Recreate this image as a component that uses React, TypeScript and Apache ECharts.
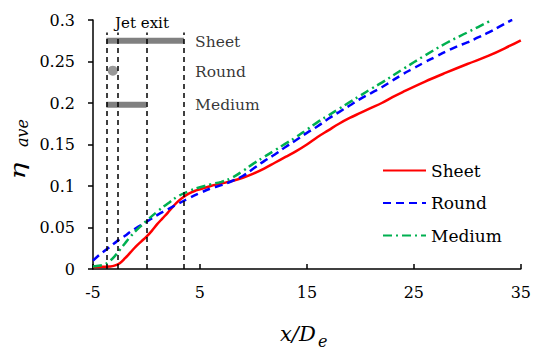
import { useEffect, useRef } from 'react';
import * as echarts from 'echarts';

const FONT = 'DejaVu Serif';

const xTicks = [-5, 5, 15, 25, 35];
const yMin = 0;
const yMax = 0.3;
const yStep = 0.05;

const sheetX = [-5, -4.5, -4, -3.5, -3, -2.5, -2, -1.5, -1, -0.5, 0, 0.5, 1, 1.5, 2, 2.5, 3, 3.5, 4, 4.5, 5, 6, 7, 8, 9, 10, 11, 12, 13, 14, 15, 16, 17, 18, 19, 20, 21, 22, 23, 24, 26, 28, 30, 32, 34, 35];
const sheetY = [0.0025, 0.0025, 0.0027, 0.003, 0.004, 0.007, 0.013, 0.02, 0.027, 0.033, 0.039, 0.046, 0.054, 0.061, 0.068, 0.0755, 0.082, 0.087, 0.091, 0.094, 0.096, 0.1, 0.103, 0.106, 0.11, 0.115, 0.121, 0.128, 0.135, 0.142, 0.15, 0.159, 0.167, 0.175, 0.182, 0.188, 0.194, 0.2, 0.207, 0.2135, 0.2255, 0.2365, 0.247, 0.257, 0.269, 0.2755];

const roundX = [-5, -4.5, -4, -3.5, -3, -2.5, -2, -1.5, -1, -0.5, 0, 1, 2, 3, 4, 5, 6, 7, 8, 9, 10, 11, 12, 13, 14, 15, 16, 17, 18, 19, 20, 21, 22, 23, 24, 25, 26, 27, 28, 29, 30, 31, 32, 33, 34, 34.2];
const roundY = [0.01, 0.016, 0.021, 0.026, 0.031, 0.036, 0.04, 0.045, 0.049, 0.053, 0.057, 0.065, 0.072, 0.079, 0.0855, 0.0915, 0.097, 0.101, 0.106, 0.112, 0.121, 0.13, 0.138, 0.147, 0.1555, 0.164, 0.172, 0.181, 0.189, 0.197, 0.205, 0.212, 0.219, 0.227, 0.235, 0.242, 0.249, 0.2555, 0.262, 0.268, 0.273, 0.279, 0.285, 0.292, 0.299, 0.3];

const mediumX = [-5, -4.5, -4, -3.5, -3, -2.5, -2, -1.5, -1, -0.5, 0, 1, 2, 3, 4, 5, 6, 7, 8, 9, 10, 11, 12, 13, 14, 15, 16, 17, 18, 19, 20, 21, 22, 24, 26, 28, 30, 32, 32.3];
const mediumY = [0.003, 0.004, 0.005, 0.009, 0.015, 0.023, 0.031, 0.039, 0.046, 0.052, 0.058, 0.069, 0.079, 0.088, 0.094, 0.0985, 0.102, 0.105, 0.11, 0.118, 0.127, 0.135, 0.143, 0.151, 0.159, 0.168, 0.177, 0.185, 0.193, 0.201, 0.209, 0.217, 0.2245, 0.241, 0.257, 0.272, 0.285, 0.298, 0.3];

// Jet exit inset
const jetLinesX = [-3.7, -2.7, 0, 3.5];
const jetLineTop = 0.285;
const sheetExitX = [-3.75, 3.5];
const sheetExitY = 0.275;
const roundExitX = -3.15;
const roundExitY = 0.239;
const mediumExitX = [-3.75, 0];
const mediumExitY = 0.198;
const insetLabels = ['Sheet', 'Round', 'Medium'];
const insetLabelX = 4.5;
const insetLabelY = [0.2735, 0.2375, 0.1975];
const jetTitle = 'Jet exit';

const zip = (xs: number[], ys: number[]) => xs.map((x, i) => [x, ys[i]]);

export default function App() {
  const ref = useRef<HTMLDivElement>(null);
  useEffect(() => {
    const chart = echarts.init(ref.current!, null, { renderer: 'svg' });
    const gray = '#808080';
    const option: any = {
      animation: false,
      textStyle: { fontFamily: FONT, color: '#000' },
      grid: { left: 93, right: 12, top: 20, bottom: 82 },
      legend: {
        data: ['Sheet', 'Round', 'Medium'],
        orient: 'vertical',
        left: 377,
        top: 157,
        padding: 5,
        itemWidth: 43,
        itemHeight: 14,
        itemGap: 15.5,
        itemStyle: { opacity: 0 },
        textStyle: { fontSize: 17, fontFamily: FONT, color: '#000' },
      },
      xAxis: {
        type: 'value',
        min: -5,
        max: 35,
        interval: 5,
        axisLine: { show: true, onZero: false, lineStyle: { color: '#000', width: 1.5 } },
        axisTick: { show: true, inside: true, length: 5, customValues: xTicks, lineStyle: { color: '#000', width: 1.5 } },
        axisLabel: { customValues: xTicks, fontSize: 16, color: '#000', fontFamily: FONT, margin: 15 },
        splitLine: { show: false },
      },
      yAxis: {
        type: 'value',
        min: yMin,
        max: yMax,
        interval: yStep,
        axisLine: { show: true, onZero: false, lineStyle: { color: '#000', width: 1.5 } },
        axisTick: { show: true, inside: false, length: 5, lineStyle: { color: '#000', width: 1.5 } },
        axisLabel: {
          fontSize: 16,
          color: '#000',
          fontFamily: FONT,
          margin: 18,
          formatter: (v: number) => String(Math.round(v * 1000) / 1000),
        },
        splitLine: { show: false },
      },
      graphic: [
        {
          type: 'text',
          x: 18,
          y: 171,
          rotation: Math.PI / 2,
          scaleX: 1.35,
          style: { text: 'η', font: `italic 21px ${FONT}`, fill: '#000', textAlign: 'center', textVerticalAlign: 'middle' },
        },
        {
          type: 'text',
          x: 22,
          y: 133,
          rotation: Math.PI / 2,
          style: { text: 'ave', font: `italic 16px ${FONT}`, fill: '#000', textAlign: 'center', textVerticalAlign: 'middle' },
        },
        {
          type: 'text',
          x: 280,
          y: 334,
          style: { text: 'x/D', font: `italic 21px ${FONT}`, fill: '#000', textAlign: 'left', textVerticalAlign: 'middle' },
        },
        {
          type: 'text',
          x: 318,
          y: 341,
          style: { text: 'e', font: `italic 16px ${FONT}`, fill: '#000', textAlign: 'left', textVerticalAlign: 'middle' },
        },
        {
          type: 'text',
          x: 142,
          y: 23,
          style: { text: jetTitle, font: `15px ${FONT}`, fill: '#000', textAlign: 'center', textVerticalAlign: 'middle' },
        },
      ],
      series: [
        {
          name: 'sheetExit',
          type: 'line',
          z: 1,
          symbol: 'none',
          silent: true,
          data: sheetExitX.map((x) => [x, sheetExitY]),
          lineStyle: { color: gray, width: 6, cap: 'butt' },
          markLine: {
            silent: true,
            symbol: ['none', 'none'],
            label: { show: false },
            lineStyle: { color: '#000', width: 1.5, type: [5, 4] },
            data: jetLinesX.map((x) => [{ coord: [x, yMin] }, { coord: [x, jetLineTop] }]),
          },
        },
        {
          name: 'mediumExit',
          type: 'line',
          z: 1,
          symbol: 'none',
          silent: true,
          data: mediumExitX.map((x) => [x, mediumExitY]),
          lineStyle: { color: gray, width: 6, cap: 'butt' },
        },
        {
          name: 'roundExit',
          type: 'scatter',
          z: 1,
          silent: true,
          symbolSize: 10,
          itemStyle: { color: gray },
          data: [[roundExitX, roundExitY]],
        },
        {
          name: 'insetLabels',
          type: 'scatter',
          z: 1,
          silent: true,
          symbolSize: 1,
          itemStyle: { color: 'rgba(0,0,0,0)' },
          data: insetLabels.map((n, i) => ({ name: n, value: [insetLabelX, insetLabelY[i]] })),
          label: {
            show: true,
            position: 'right',
            distance: 0,
            formatter: '{b}',
            fontSize: 15.5,
            fontFamily: FONT,
            color: '#000',
          },
        },
        {
          name: 'Sheet',
          type: 'line',
          z: 3,
          smooth: 0.4,
          symbol: 'none',
          data: zip(sheetX, sheetY),
          lineStyle: { color: '#ff0000', width: 2.5 },
          itemStyle: { color: '#ff0000' },
        },
        {
          name: 'Round',
          type: 'line',
          z: 3,
          smooth: 0.4,
          symbol: 'none',
          data: zip(roundX, roundY),
          lineStyle: { color: '#0000ff', width: 2.5, type: [8, 5] },
          itemStyle: { color: '#0000ff' },
        },
        {
          name: 'Medium',
          type: 'line',
          z: 3,
          smooth: 0.4,
          symbol: 'none',
          data: zip(mediumX, mediumY),
          lineStyle: { color: '#00b050', width: 2.5, type: [9, 4, 2, 4] },
          itemStyle: { color: '#00b050' },
        },
      ],
    };
    chart.setOption(option);
    return () => chart.dispose();
  }, []);
  return <div ref={ref} style={{ position: 'absolute', left: 0, top: 0, width: 534, height: 351 }} />;
}
